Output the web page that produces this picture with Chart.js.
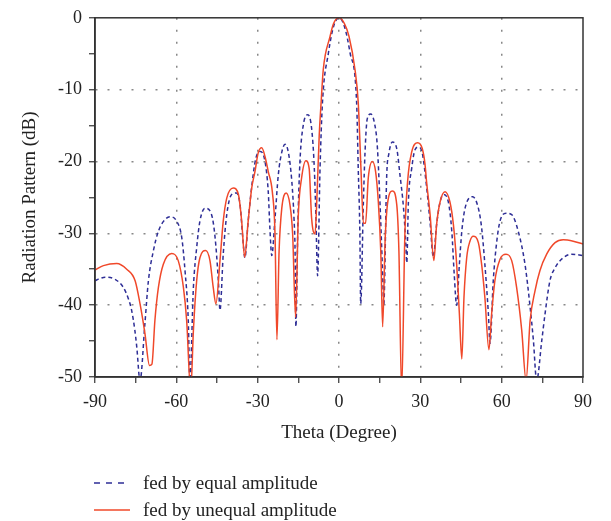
<!DOCTYPE html>
<html>
<head>
<meta charset="utf-8">
<script src="https://cdn.jsdelivr.net/npm/chart.js@4.4.0/dist/chart.umd.min.js"></script>
<style>
    html, body { margin: 0; padding: 0; background: #fff; }
    #wrap { position: relative; width: 611px; height: 521px; }
    #legend { position: absolute; left: 94px; top: 469px; font-family: "Liberation Serif", serif; font-size: 19px; color: #222; }
    .row { display: flex; align-items: center; height: 27px; }
    .row svg { margin-right: 13px; }
</style>
</head>
<body>
<div id="wrap">
    <canvas id="chart" width="611" height="521"></canvas>
    <div id="legend">
        <div class="row"><svg width="36" height="4"><line x1="0" y1="2" x2="36" y2="2" stroke="#2e2e96" stroke-width="1.5" stroke-dasharray="6,6"/></svg>fed by equal amplitude</div>
        <div class="row"><svg width="36" height="4"><line x1="0" y1="2" x2="36" y2="2" stroke="#f0482a" stroke-width="1.5"/></svg>fed by unequal amplitude</div>
    </div>
</div>
<script>
    // 축 눈금
    const xTicks = [-90, -60, -30, 0, 30, 60, 90];
    const xMinorTicks = [-75, -45, -15, 15, 45, 75];
    const yTicks = [0, -10, -20, -30, -40, -50];
    const yMinorTicks = [-5, -15, -25, -35, -45];

    // fed by unequal amplitude (red)
    const thetaUnequal = [-90, -86.9, -82.0, -78.3, -75.2, -73.4, -71.6, -69.9, -69.0, -67.9, -66.6, -64.8, -61.7, -59.3, -57.4, -56.2, -54.7, -53.7, -52.5, -51.3, -49.2, -47.6, -46.4, -45.4, -43.9, -42.7, -41.4, -39.0, -37.1, -35.9, -34.8, -33.5, -32.2, -31.0, -29.8, -28.5, -27.3, -26.1, -24.6, -23.6, -22.9, -22.1, -21.1, -19.5, -18.1, -17.1, -16.0, -15.0, -13.8, -12.2, -11.0, -10.1, -8.85, -8.2, -7.3, -6.6, -5.8, -3.3, -2.0, 0, 2.0, 3.7, 5.9, 7.1, 8.1, 9.0, 9.8, 10.8, 12.3, 13.5, 14.5, 15.4, 16.1, 17.0, 18.0, 19.7, 21.3, 22.1, 23.1, 24.3, 25.3, 26.8, 29.0, 30.7, 31.7, 32.3, 33.6, 35.0, 36.0, 37.3, 39.1, 40.9, 42.2, 43.4, 44.4, 45.3, 46.1, 47.1, 48.3, 49.5, 51.4, 52.6, 53.8, 55.3, 56.3, 57.5, 59.4, 61.6, 63.7, 65.5, 67.4, 69.0, 70.5, 72.3, 74.1, 76.6, 79.7, 82.7, 86.4, 90];
    const dbUnequal = [-35.1, -34.5, -34.2, -35.0, -36.6, -39.8, -43.9, -48.4, -48.2, -42.1, -37.5, -34.3, -32.8, -33.8, -37.5, -42.1, -52, -43.5, -36.6, -33.4, -32.4, -33.8, -37.5, -39.8, -33.8, -28.3, -25.1, -23.7, -24.6, -28.3, -33.3, -28.3, -23.7, -21.4, -18.8, -18.1, -19.3, -21.4, -24.2, -30.1, -44.8, -32.5, -26.5, -24.4, -26.0, -30.1, -41.7, -27.4, -22.3, -19.9, -21.0, -27.9, -30.1, -25.6, -16.4, -11.8, -7.2, -2.6, -0.8, 0, -0.8, -2.6, -7.2, -11.8, -21.0, -28.6, -28.6, -22.3, -20.0, -21.4, -25.6, -32.5, -43.0, -31.1, -25.6, -24.1, -26.0, -32.5, -52, -30.1, -22.8, -18.7, -17.4, -18.2, -20.3, -22.8, -27.4, -33.8, -28.8, -25.6, -24.2, -25.6, -28.8, -34.3, -41.2, -47.5, -38.9, -33.4, -31.1, -30.4, -31.3, -34.3, -38.9, -46.2, -41.2, -36.6, -33.6, -32.9, -33.8, -37.5, -43.5, -50.5, -42.1, -38.0, -35.2, -32.9, -31.3, -30.9, -31.1, -31.5];

    // fed by equal amplitude (blue)
    const thetaEqual = [-90, -88.2, -86.3, -82.6, -79.6, -77.7, -76.5, -75.3, -74.6, -73.4, -71.6, -70.3, -68.5, -66.6, -64.2, -62.3, -59.9, -58.0, -56.8, -55.6, -55.0, -53.7, -52.5, -51.3, -49.4, -47.0, -45.7, -44.5, -43.9, -42.7, -41.4, -39.6, -37.9, -36.5, -35.5, -34.7, -33.5, -32.2, -30.7, -29.0, -27.3, -26.1, -25.5, -24.8, -23.6, -22.4, -21.1, -19.9, -18.7, -17.4, -16.6, -16.2, -15.9, -15.2, -14.4, -13.2, -11.5, -10.1, -9.1, -8.5, -7.9, -7.0, -6.1, -3.9, -2.0, 0, 2.0, 4.1, 6.5, 7.1, 7.7, 8.0, 9.0, 9.6, 10.4, 11.7, 13.0, 14.1, 15.1, 16.1, 16.5, 17.6, 18.4, 19.7, 21.3, 22.5, 23.8, 24.6, 25.0, 25.6, 26.8, 28.0, 29.3, 30.7, 32.3, 33.6, 34.8, 36.0, 37.3, 38.6, 40.3, 41.6, 42.5, 43.4, 44.4, 45.3, 46.5, 49.3, 51.4, 52.6, 53.8, 55.1, 55.7, 56.9, 58.2, 59.4, 61.6, 63.7, 66.1, 68.6, 70.5, 71.7, 72.9, 74.8, 76.0, 77.8, 79.7, 82.7, 85.8, 90];
    const dbEqual = [-36.6, -36.3, -36.1, -36.4, -37.5, -39.1, -40.7, -43.5, -45.8, -50.5, -42.6, -36.6, -32.5, -29.7, -28.1, -27.7, -28.3, -30.6, -35.2, -42.1, -50.5, -37.5, -32.0, -28.3, -26.5, -27.4, -30.6, -36.6, -40.7, -32.9, -27.4, -24.6, -24.4, -26.0, -30.6, -33.4, -28.3, -23.5, -19.6, -18.6, -20.0, -24.2, -29.2, -33.1, -27.9, -21.9, -18.7, -17.6, -18.7, -22.8, -27.9, -32.5, -43.0, -29.2, -20.0, -15.0, -13.5, -15.4, -21.0, -27.9, -35.9, -21.0, -11.8, -4.9, -1.2, 0, -1.2, -4.9, -11.8, -21.0, -30.1, -39.8, -25.6, -18.7, -14.1, -13.4, -14.5, -17.7, -25.6, -35.7, -40.0, -21.9, -18.9, -17.3, -18.2, -21.9, -26.5, -31.1, -34.1, -25.6, -21.0, -18.4, -18.0, -18.8, -23.5, -28.5, -33.3, -28.8, -25.6, -24.6, -25.6, -29.7, -35.7, -40.0, -34.3, -29.7, -26.5, -24.9, -26.5, -29.2, -34.3, -41.2, -45.3, -36.6, -31.1, -28.3, -27.2, -27.4, -29.7, -34.3, -40.3, -44.9, -50.5, -44.9, -41.2, -36.6, -34.8, -33.4, -32.9, -33.1];

    const RED = "#f0482a";
    const BLUE = "#2e2e96";
    const FONT = "'Liberation Serif', 'Times New Roman', serif";

    function toPoints(aX, aY) {
        return aX.map((x, i) => ({ x: x, y: aY[i] }));
    }

    // 외곽 박스
    const framePlugin = {
        id: "frame",
        afterDraw(chart) {
            const { ctx, chartArea: a } = chart;
            ctx.save();
            ctx.strokeStyle = "#333";
            ctx.lineWidth = 1.5;
            ctx.strokeRect(a.left, a.top, a.right - a.left, a.bottom - a.top);
            ctx.restore();
        }
    };

    const ctx = document.getElementById("chart").getContext("2d");
    new Chart(ctx, {
        type: "line",
        data: {
            datasets: [
                {
                    label: "fed by unequal amplitude",
                    data: toPoints(thetaUnequal, dbUnequal),
                    borderColor: RED,
                    borderWidth: 1.5,
                    pointRadius: 0,
                    cubicInterpolationMode: "monotone"
                },
                {
                    label: "fed by equal amplitude",
                    data: toPoints(thetaEqual, dbEqual),
                    borderColor: BLUE,
                    borderWidth: 1.5,
                    borderDash: [4, 3],
                    pointRadius: 0,
                    cubicInterpolationMode: "monotone"
                }
            ]
        },
        options: {
            responsive: false,
            animation: false,
            layout: { padding: { left: 0, top: 15, right: 28, bottom: 74 } },
            plugins: { legend: { display: false }, tooltip: { enabled: false } },
            scales: {
                x: {
                    type: "linear",
                    min: -90,
                    max: 90,
                    afterBuildTicks: s => { s.ticks = xTicks.concat(xMinorTicks).sort((a, b) => a - b).map(v => ({ value: v })); },
                    afterFit: s => { s.height = 70; },
                    ticks: {
                        padding: 8,
                        color: "#222",
                        font: { family: FONT, size: 18 },
                        maxRotation: 0,
                        autoSkip: false,
                        callback: v => xTicks.includes(v) ? String(v) : ""
                    },
                    grid: {
                        color: c => (c.tick && xTicks.includes(c.tick.value) && Math.abs(c.tick.value) !== 90) ? "#888" : "rgba(0,0,0,0)",
                        lineWidth: 1.5,
                        tickColor: "#333",
                        tickLength: 6,
                        tickWidth: 1.2
                    },
                    border: { color: "#333", width: 1.5, dash: [2, 10] },
                    title: {
                        display: true,
                        text: "Theta (Degree)",
                        color: "#222",
                        font: { family: FONT, size: 19 },
                        padding: { top: 0, bottom: 3 }
                    }
                },
                y: {
                    min: -50,
                    max: 0,
                    afterBuildTicks: s => { s.ticks = yTicks.concat(yMinorTicks).sort((a, b) => a - b).map(v => ({ value: v })); },
                    afterFit: s => { s.width = 95; },
                    ticks: {
                        padding: 7,
                        color: "#222",
                        font: { family: FONT, size: 18 },
                        autoSkip: false,
                        callback: v => yTicks.includes(v) ? String(v) : ""
                    },
                    grid: {
                        color: c => (c.tick && yTicks.includes(c.tick.value) && c.tick.value !== 0 && c.tick.value !== -50) ? "#888" : "rgba(0,0,0,0)",
                        lineWidth: 1.5,
                        tickColor: "#333",
                        tickLength: 6,
                        tickWidth: 1.2
                    },
                    border: { color: "#333", width: 1.5, dash: [2, 10] },
                    title: {
                        display: true,
                        text: "Radiation Pattern (dB)",
                        color: "#222",
                        font: { family: FONT, size: 19 },
                        padding: { top: 19, bottom: 0 }
                    }
                }
            }
        },
        plugins: [framePlugin]
    });
</script>
</body>
</html>
